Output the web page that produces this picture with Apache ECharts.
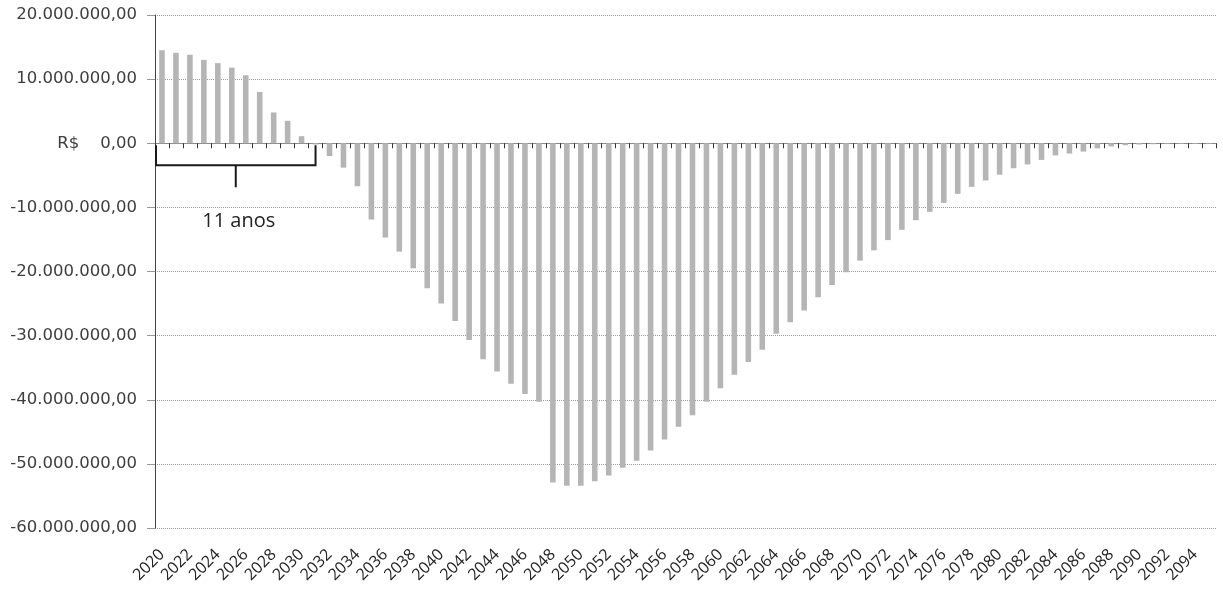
<!DOCTYPE html>
<html>
<head>
<meta charset="utf-8">
<script src="https://cdn.jsdelivr.net/npm/echarts@6/dist/echarts.min.js"></script>
<style>
html,body{margin:0;padding:0;background:#fff;}
#chart{width:1223px;height:600px;}
</style>
</head>
<body>
<div id="chart"></div>
<script>
const years = ['2020','2021','2022','2023','2024','2025','2026','2027','2028','2029',
  '2030','2031','2032','2033','2034','2035','2036','2037','2038','2039',
  '2040','2041','2042','2043','2044','2045','2046','2047','2048','2049',
  '2050','2051','2052','2053','2054','2055','2056','2057','2058','2059',
  '2060','2061','2062','2063','2064','2065','2066','2067','2068','2069',
  '2070','2071','2072','2073','2074','2075','2076','2077','2078','2079',
  '2080','2081','2082','2083','2084','2085','2086','2087','2088','2089',
  '2090','2091','2092','2093','2094','2095'];

const saldo = [14500000,14100000,13800000,13000000,12500000,11800000,10600000,8000000,4800000,3500000,
  1100000,-200000,-2000000,-3800000,-6700000,-11900000,-14700000,-16900000,-19500000,-22600000,
  -25000000,-27700000,-30700000,-33700000,-35600000,-37500000,-39100000,-40300000,-52900000,-53400000,
  -53400000,-52700000,-51800000,-50600000,-49500000,-47900000,-46200000,-44200000,-42400000,-40300000,
  -38200000,-36100000,-34100000,-32200000,-29700000,-27900000,-26100000,-24000000,-22100000,-20100000,
  -18300000,-16700000,-15100000,-13500000,-12000000,-10700000,-9300000,-7900000,-6800000,-5800000,
  -4900000,-3900000,-3300000,-2600000,-1900000,-1600000,-1300000,-800000,-500000,-300000,
  -200000,-150000,-100000,-100000,-100000,-100000];

const yTicks = {min:-60000000, max:20000000, step:10000000};
const bracketLabel = '11 anos';
const bracketFirst = '2020';
const bracketEnd = '2031';

function fmtBR(v){
  if (v === 0) return 'R$    0,00';
  const neg = v < 0;
  let s = Math.abs(Math.round(v)).toString();
  s = s.replace(/\B(?=(\d{3})+(?!\d))/g, '.');
  return (neg ? '-' : '') + s + ',00';
}

const chart = echarts.init(document.getElementById('chart'));
chart.setOption({
  animation:false,
  backgroundColor:'#fff',
  grid:{left:155, right:7, top:15, bottom:72, containLabel:false},
  xAxis:[{
    type:'category', data:years, position:'bottom',
    axisLine:{show:false, onZero:false},
    axisTick:{show:false},
    axisLabel:{interval:1, rotate:45, fontFamily:'Open Sans', fontSize:16, color:'#222', margin:24}
  },{
    type:'category', data:years, position:'top',
    axisLine:{show:true, onZero:true, lineStyle:{color:'#8a8a8a', width:1}},
    axisTick:{show:true, inside:true, interval:0, length:5, lineStyle:{color:'#333'}},
    axisLabel:{show:false}
  }],
  yAxis:{
    type:'value', min:yTicks.min, max:yTicks.max, interval:yTicks.step,
    axisLine:{show:true, lineStyle:{color:'#444', width:1}},
    axisTick:{show:true, length:8, lineStyle:{color:'#9a9a9a'}},
    axisLabel:{formatter:fmtBR, fontFamily:'DejaVu Sans', fontSize:16.5, color:'#3e3e3e', margin:18},
    splitLine:{show:true, lineStyle:{color:'#9a9a9a', type:'dotted', width:1}}
  },
  series:[{
    type:'bar', xAxisIndex:0, data:saldo, barWidth:'40%',
    itemStyle:{color:'#b5b5b5'}
  }]
});

// Bracket annotation positioned via the chart's own scales
const band = chart.convertToPixel({xAxisIndex:0}, '2021') - chart.convertToPixel({xAxisIndex:0}, '2020');
const xL = chart.convertToPixel({xAxisIndex:0}, bracketFirst) - band/2 + 1;
const xR = chart.convertToPixel({xAxisIndex:0}, bracketEnd);
const y0 = chart.convertToPixel({yAxisIndex:0}, 0);
const yB = y0 + 22;
const xM = (xL + xR)/2;
chart.setOption({
  graphic:[
    {type:'polyline', shape:{points:[[xL,y0+2],[xL,yB],[xR,yB],[xR,y0+2]]}, style:{stroke:'#1a1a1a', lineWidth:2, fill:null}, z:10},
    {type:'line', shape:{x1:xM, y1:yB, x2:xM, y2:yB+22}, style:{stroke:'#1a1a1a', lineWidth:2}, z:10},
    {type:'text', x:xM+3, y:yB+56, style:{text:bracketLabel, font:'20px "Open Sans"', fill:'#222', align:'center', verticalAlign:'middle'}, z:10}
  ]
});
</script>
</body>
</html>
